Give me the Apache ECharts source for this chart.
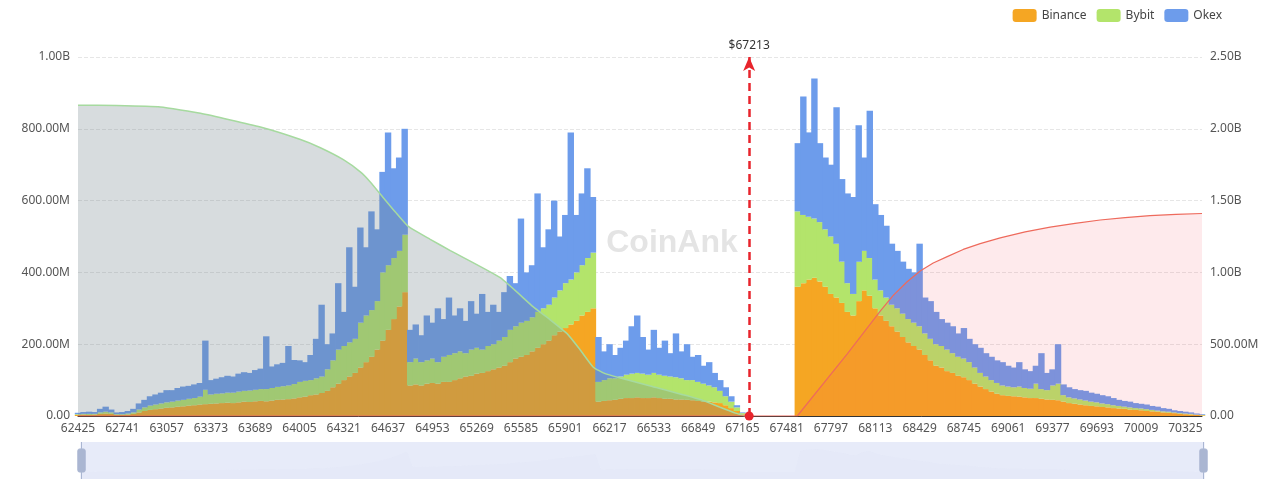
<!DOCTYPE html>
<html><head><meta charset="utf-8">
<script src="https://cdn.jsdelivr.net/npm/echarts@6.0.0/dist/echarts.min.js"></script>
<style>html,body{margin:0;padding:0;background:#fff}#c{width:1280px;height:484px}</style>
</head><body><div id="c"></div>
<script>
const priceStart = 62425;
const priceStep = 39.5;
const currentPrice = 67213;

// values in millions (USD)
const binance = [3,4,3,4,6,7,6,3,3,4,6,
10,14,17,19,21,23,24,26,27,29,30,32,33,
34,35,36,37,36,38,40,39,41,42,41,43,45,46,47,49,
52,54,58,60,64,70,
80,90,100,110,120,135,150,165,185,210,240,270,305,345,
85,88,85,90,92,90,95,95,100,105,110,112,118,120,125,130,135,140,
150,160,165,170,180,190,200,210,225,235,245,255,265,280,290,300,
40,42,44,45,48,50,50,52,50,50,52,50,48,48,46,46,45,44,42,40,40,38,36,30,22,14,5,
0,0,0,0,0,0,0,0,0,
360,370,380,385,375,360,340,330,315,290,280,320,350,335,300,280,265,250,235,220,205,195,185,170,155,140,135,125,120,112,108,100,90,82,75,68,62,58,56,55,54,52,50,50,48,46,45,44,40,
36,34,32,30,28,27,25,24,22,21,20,18,17,16,14,13,12,10,9,8,6,5,4,3,2];

const bybit = [2,2,3,2,4,5,4,2,2,3,4,
8,10,12,13,14,15,16,17,18,19,20,22,40,
26,27,27,28,29,30,30,32,32,33,34,35,36,37,38,40,
43,44,42,45,46,60,
75,95,95,95,95,125,130,130,135,190,180,170,155,160,
65,72,65,65,68,60,70,75,75,75,65,73,72,65,70,70,75,80,
90,90,95,95,95,100,100,100,105,115,125,125,135,140,150,155,
55,58,61,60,62,65,68,68,68,65,68,65,64,62,62,59,55,56,53,50,45,42,34,25,18,10,3,
0,0,0,0,0,0,0,0,0,
210,190,175,165,165,160,160,150,115,80,60,110,110,105,80,70,65,60,65,65,65,65,65,60,60,60,60,60,55,53,52,50,45,38,35,32,30,27,26,25,28,26,26,40,27,26,40,46,18,
16,15,14,13,12,11,10,9,8,7,6,6,5,5,5,4,3,3,3,2,2,2,2,1,1];

const okex = [4,5,6,5,10,14,8,5,6,7,10,
17,21,26,28,30,34,32,35,37,36,38,38,137,
40,42,45,47,45,50,52,49,55,57,147,60,63,65,110,67,
60,52,70,110,200,70,
75,185,95,265,145,265,190,275,200,280,370,250,260,295,
90,95,75,125,100,150,105,160,105,120,90,135,95,155,95,110,80,125,
150,120,290,135,145,330,170,210,270,150,190,410,160,200,250,155,
125,80,95,65,80,95,132,160,102,70,120,75,98,65,122,75,100,65,75,50,65,40,30,25,15,6,2,
0,0,0,0,0,0,0,0,0,
190,330,235,390,220,200,200,380,230,250,270,380,260,410,210,210,200,170,160,145,140,140,230,100,105,90,75,75,75,65,85,65,65,70,65,65,63,65,58,55,68,52,49,50,100,48,45,110,30,
28,26,26,27,25,24,23,22,20,17,16,16,14,13,13,11,11,9,8,6,6,5,4,3,2];

// cumulative liquidation curves (right axis, millions)
const longCumPrice = [62425,62700,63013,63299,63726,64012,64154,64318,64439,64510,64603,64689,64781,64938,65081,65437,65673,65794,65916,66008,66101,66186,66294,66508,66865,67008,67115,67186];
const longCumValue = [2164,2162,2152,2108,2012,1925,1868,1785,1700,1630,1520,1420,1320,1230,1152,963,760,670,572,460,340,295,265,209,115,60,20,0];
const shortCumPrice = [62425,67556,67913,68148,68241,68340,68433,68526,68626,68740,68861,69004,69182,69360,69538,69717,69895,70073,70259,70443.5];
const shortCumValue = [0,0,433,730,840,935,1010,1065,1110,1160,1200,1240,1282,1315,1342,1365,1382,1395,1404,1410];

const categories = binance.map((_, i) => String(priceStart + i * priceStep));
const priceEnd = priceStart + (binance.length - 1) * priceStep;

function fmt(v) {
  if (v === 0) return '0.00';
  if (v >= 1000) return (v / 1000).toFixed(2) + 'B';
  return v.toFixed(2) + 'M';
}

const chart = echarts.init(document.getElementById('c'), null, {renderer: 'canvas'});
const font = 'Noto Sans, sans-serif';
chart.setOption({
  animation: false,
  textStyle: {fontFamily: font},
  legend: {
    right: 53, top: 4, itemWidth: 24, itemHeight: 13, itemGap: 10, icon: 'roundRect',
    textStyle: {color: '#444', fontSize: 12, fontFamily: font},
    data: ['Binance', 'Bybit', 'Okex']
  },
  grid: {left: 78, right: 78, top: 57, bottom: 68},
  graphic: [{
    type: 'text', x: 672, y: 243, z: 1, silent: true,
    style: {text: 'CoinAnk', fontSize: 32, fontWeight: 'bold', fontFamily: 'Liberation Sans, Arial, sans-serif',
      fill: '#e4e4e4', align: 'center', verticalAlign: 'middle'}
  }],
  xAxis: [{
    type: 'category', data: categories, boundaryGap: false,
    axisLine: {lineStyle: {color: '#333'}},
    axisTick: {show: false},
    axisLabel: {interval: 7, color: '#555', fontSize: 12, margin: 7, formatter: v => String(Math.round(+v))}
  }, {
    type: 'value', min: priceStart, max: priceEnd, show: false
  }],
  yAxis: [{
    type: 'value', min: 0, max: 1000, interval: 200,
    axisLabel: {formatter: fmt, color: '#555', fontSize: 12, margin: 8},
    splitLine: {lineStyle: {type: 'dashed', color: '#e6e6e6'}},
    axisLine: {show: false}, axisTick: {show: false}
  }, {
    type: 'value', min: 0, max: 2500, interval: 500,
    axisLabel: {formatter: fmt, color: '#555', fontSize: 12, margin: 8},
    splitLine: {show: false}, axisLine: {show: false}, axisTick: {show: false}
  }],
  dataZoom: [{
    type: 'slider', xAxisIndex: 0, start: 0, end: 100, filterMode: 'none',
    left: 78, right: 78, bottom: 5, height: 37,
    backgroundColor: 'rgba(232,236,250,0.75)', borderColor: 'transparent',
    fillerColor: 'rgba(215,222,246,0.3)',
    showDetail: false, brushSelect: false, moveHandleSize: 0,
    showDataShadow: true,
    dataBackground: {lineStyle: {opacity: 0}, areaStyle: {color: '#dfe4f5', opacity: 0.25}},
    selectedDataBackground: {lineStyle: {opacity: 0}, areaStyle: {color: '#dfe4f5', opacity: 0.25}},
    handleIcon: 'path://M-9.35,34.56V42m0-40V9.5m-2,0h4a2,2,0,0,1,2,2v21a2,2,0,0,1-2,2h-4a2,2,0,0,1-2-2v-21A2,2,0,0,1-11.35,9.5Z',
    handleSize: '100%',
    handleStyle: {color: '#aab6d2', borderColor: '#aab6d2'}
  }],
  series: [
    {name: 'Binance', type: 'bar', stack: 'liq', data: binance, barWidth: 6.4, itemStyle: {color: '#f5a623'}},
    {name: 'Bybit', type: 'bar', stack: 'liq', data: bybit, barWidth: 6.4, itemStyle: {color: '#b3e46b'}},
    {name: 'Okex', type: 'bar', stack: 'liq', data: okex, barWidth: 6.4, itemStyle: {color: '#6d9ceb'}},
    {
      name: 'longCum', type: 'line', xAxisIndex: 1, yAxisIndex: 1, symbol: 'none', smooth: 0.15, z: 3,
      data: longCumPrice.map((p, i) => [p, longCumValue[i]]),
      lineStyle: {color: '#a6da9f', width: 1.5},
      areaStyle: {color: 'rgba(110,130,137,0.4)'}
    },
    {
      name: 'shortCum', type: 'line', xAxisIndex: 1, yAxisIndex: 1, symbol: 'none', smooth: false, z: 3,
      data: shortCumPrice.map((p, i) => [p, shortCumValue[i]]),
      lineStyle: {color: '#ee6a5c', width: 1.2},
      areaStyle: {color: 'rgba(245,80,90,0.17)'},
      markLine: {
        silent: true, symbol: ['circle', 'arrow'], symbolSize: [9, 14],
        lineStyle: {color: '#e8242c', width: 2.5, type: [8, 5]},
        label: {formatter: '$' + currentPrice, color: '#333', fontSize: 12, position: 'end'},
        data: [{xAxis: currentPrice}]
      }
    }
  ]
});
</script></body></html>
